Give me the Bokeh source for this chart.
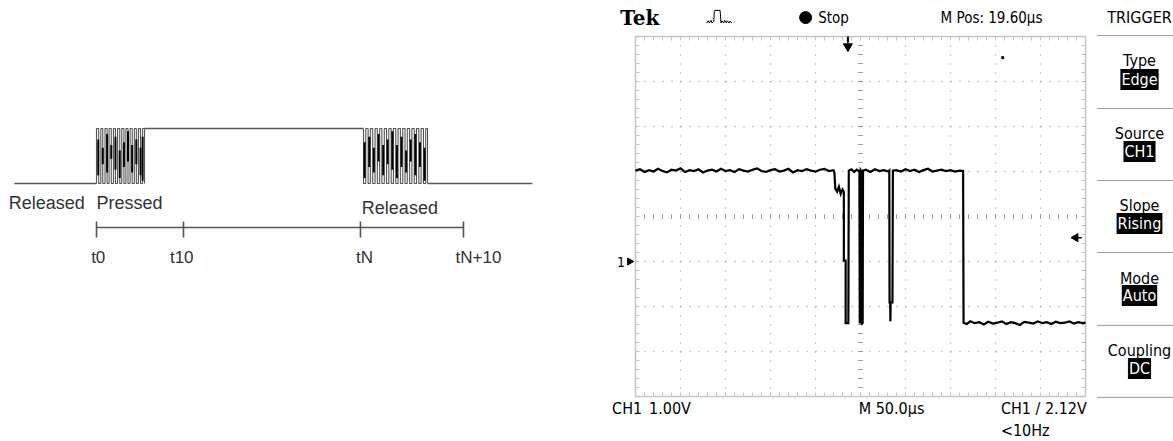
import numpy as np
from bokeh.plotting import figure
from bokeh.models import Range1d
from bokeh.core.properties import value
from bokeh.embed import file_html
from bokeh.resources import INLINE

# ---------------- Left: key-bounce timing diagram (time units, level 0/1) ----------
released_before_t = [-9.43, 0.0]
pressed_plateau_t = [5.52, 30.69]
released_after_t = [38.05, 50.1]

bounce1_edges = [0.00, 0.25, 0.50, 0.72, 0.98, 1.22, 1.45, 1.70, 1.95, 2.18, 2.42, 2.67,
                 2.90, 3.15, 3.38, 3.62, 3.86, 4.10, 4.35, 4.58, 4.82, 5.06, 5.30, 5.52]
bounce1_dark_x = [0.20, 0.72, 1.22, 1.70, 2.18, 2.67, 3.15, 3.62, 4.10, 4.58, 5.06, 5.30]
bounce1_dark_lo = [0.15, 0.35, 0.20, 0.45, 0.25, 0.10, 0.30, 0.40, 0.20, 0.35, 0.15, 0.05]
bounce1_dark_hi = [0.80, 0.65, 0.90, 0.70, 0.85, 0.60, 0.75, 0.95, 0.70, 0.80, 0.65, 0.85]

bounce2_edges = [30.69, 30.95, 31.22, 31.48, 31.75, 32.02, 32.28, 32.55, 32.80, 33.08,
                 33.34, 33.60, 33.87, 34.13, 34.40, 34.66, 34.93, 35.20, 35.46, 35.72,
                 35.99, 36.25, 36.52, 36.78, 37.05, 37.31, 37.58, 37.84, 38.05]
bounce2_dark_x = [30.82, 31.35, 31.88, 32.42, 32.95, 33.47, 34.00, 34.53, 35.06, 35.59,
                  36.12, 36.65, 37.18, 37.71]
bounce2_dark_lo = [0.10, 0.30, 0.20, 0.40, 0.15, 0.35, 0.25, 0.10, 0.30, 0.20, 0.40, 0.15, 0.30, 0.05]
bounce2_dark_hi = [0.75, 0.85, 0.65, 0.90, 0.70, 0.80, 0.95, 0.70, 0.85, 0.60, 0.80, 0.90, 0.75, 0.65]

axis_ticks_t = [0.0, 10.0, 30.34, 42.18]
axis_labels = ["t0", "t10", "tN", "tN+10"]
axis_label_x = [0.2, 9.8, 30.8, 43.9]
state_labels = ["Released", "Pressed", "Released"]
state_label_x = [-10.1, 0.0, 30.5]
state_label_y = [-0.36, -0.36, -0.44]

# ---------------- Right: oscilloscope capture (µs, V) -----------------------------
segA_t = [0, 5, 10, 15, 20, 25, 30, 35, 40, 45, 50, 55, 60, 65, 70, 75, 80, 85, 90, 95, 100,
          105, 110, 115, 120, 125, 130, 135, 140, 145, 150, 155, 160, 165, 170, 175, 180,
          185, 190, 195, 200, 205, 210, 215, 220]
segA_v = [2.02, 2.05, 1.99, 2.03, 2.00, 2.06, 2.01, 1.98, 2.04, 2.02, 2.07, 1.99, 2.03, 2.01,
          2.05, 1.98, 2.02, 2.04, 2.00, 2.06, 2.01, 2.03, 1.99, 2.05, 2.02, 2.00, 2.04, 2.07,
          2.01, 1.99, 2.03, 2.05, 2.00, 2.02, 2.06, 1.98, 2.03, 2.01, 2.05, 2.02, 2.00, 2.04,
          2.06, 2.01, 2.03]
dipA_t = [221, 222, 224, 226, 228, 230, 231.5, 231.5, 233.5, 233.5, 236.5, 237, 240, 243, 246,
          248.8, 249.2, 250.2, 251.2, 251.6, 252.4, 252.8]
dipA_v = [1.98, 1.62, 1.55, 1.66, 1.50, 1.60, 1.55, 0.02, 0.02, -1.37, -1.37, 2.02, 2.05, 1.99,
          2.04, 2.00, -1.38, 2.03, 2.00, -1.38, -1.37, 2.02]
segB_t = [256, 261, 266, 271, 276, 281]
segB_v = [2.04, 1.99, 2.05, 2.01, 2.03, 2.00]
dipB_t = [282, 282.3, 283.0, 283.2, 283.5, 285.5, 286]
dipB_v = [2.02, -0.91, -0.91, -1.33, -0.91, -0.91, 2.02]
segC_t = [290, 295, 300, 305, 310, 315, 320, 325, 330, 335, 340, 345, 350, 355, 360, 364]
segC_v = [2.03, 2.00, 2.05, 2.01, 2.04, 1.99, 2.03, 2.06, 2.00, 2.02, 2.04, 2.01, 2.03, 2.00,
          2.02, 2.01]
segD_t = [364.5, 368, 372, 377, 382, 387, 392, 397, 402, 407, 412, 417, 422, 427, 432, 437,
          442, 447, 452, 457, 462, 467, 472, 477, 482, 487, 492, 497, 500]
segD_v = [-1.36, -1.39, -1.33, -1.37, -1.35, -1.40, -1.34, -1.38, -1.36, -1.33, -1.39, -1.35,
          -1.37, -1.41, -1.34, -1.36, -1.38, -1.33, -1.37, -1.35, -1.39, -1.34, -1.37, -1.36,
          -1.33, -1.38, -1.35, -1.37, -1.36]

icon_t = [79, 81, 82, 84, 85, 87, 87.5, 88, 94, 95, 96, 98, 99, 101, 102, 104, 105, 107]
icon_v = [5.30, 5.35, 5.30, 5.36, 5.30, 5.34, 5.55, 5.58, 5.58, 5.30, 5.35, 5.30, 5.36, 5.30,
          5.35, 5.30, 5.34, 5.30]

header_texts = ["Tek", "Stop", "M Pos: 19.60µs"]
footer_texts = ["CH1", "1.00V", "M 50.0µs", "CH1 / 2.12V", "<10Hz"]
menu_titles = ["Type", "Source", "Slope", "Mode", "Coupling"]
menu_values = ["Edge", "CH1", "Rising", "Auto", "DC"]

# ---------------- layout constants (pixels of the page) ---------------------------
W, H = 1173, 441
# left diagram: t0 at page x 96, 8.7 px per unit; level 0 at page y 183, 55 px per level
lx0, lux, ly0, luy = 96, 8.7, 183, 55
xs_l = (0 - lx0) / lux
ys_l = (ly0 - H) / luy
# scope: 0 µs at page x 635, 0.9 px/µs ; 0 V at page y 261, 45 px/V
sx0, sux, sy0, suy = 635, 0.9, 261, 45
xs_s = (0 - sx0) / sux
ys_s = (sy0 - H) / suy

p = figure(width=W, height=H, output_backend="svg", toolbar_location=None,
           x_range=Range1d(xs_l, xs_l + W / lux), y_range=Range1d(ys_l, ys_l + H / luy),
           x_axis_location=None, y_axis_location=None, min_border=0)
p.grid.visible = False
p.outline_line_color = None
p.background_fill_color = "white"
p.border_fill_color = "white"
p.extra_x_ranges = {"st": Range1d(xs_s, xs_s + W / sux)}
p.extra_y_ranges = {"sv": Range1d(ys_s, ys_s + H / suy)}
S = dict(x_range_name="st", y_range_name="sv")

DIAG = "#555555"
SANS = value("Liberation Sans")
NARROW = value("'Liberation Sans Narrow', 'DejaVu Sans Condensed', 'Liberation Sans', sans-serif")


def steps(edges, start_level):
    xs, ys = [], []
    lev = start_level
    for e in edges:
        xs += [e, e]
        ys += [lev, 1 - lev]
        lev = 1 - lev
    return xs, ys


# ---- left diagram ----
p.line(released_before_t, [0, 0], line_color=DIAG, line_width=1.6)
p.line(pressed_plateau_t, [1, 1], line_color=DIAG, line_width=1.6)
p.line(released_after_t, [0, 0], line_color=DIAG, line_width=1.6)
bx, by = steps(bounce1_edges, 0)
p.line(bx, by, line_color="#555555", line_width=1.1)
bx, by = steps(bounce2_edges, 1)
p.line(bx, by, line_color="#555555", line_width=1.1)
p.segment(bounce1_dark_x, bounce1_dark_lo, bounce1_dark_x, bounce1_dark_hi, line_color="black", line_width=2)
p.segment(bounce2_dark_x, bounce2_dark_lo, bounce2_dark_x, bounce2_dark_hi, line_color="black", line_width=2)

ay = (ly0 - 227) / luy
p.line([axis_ticks_t[0], axis_ticks_t[-1]], [ay, ay], line_color=DIAG, line_width=1.6)
p.segment(axis_ticks_t, [ay + 6 / luy] * 4, axis_ticks_t, [ay - 10 / luy] * 4, line_color=DIAG, line_width=1.6)
p.text(axis_label_x, [(ly0 - 257) / luy] * 4, text=axis_labels, text_font=SANS, text_font_size="17px",
       text_color="#333333", text_align="center", text_baseline="middle")
p.text(state_label_x, state_label_y, text=state_labels, text_font=SANS, text_font_size="18px",
       text_color="#333333", text_align="left", text_baseline="middle")

# ---- scope graticule ----
GRID = "#a0a0a0"
EDGE = "#c4c4c4"
div_t = np.arange(50, 500, 50)
div_v = np.arange(-2, 5, 1)
dot_t = [t for t in div_t if t != 250]
dot_v = [v for v in div_v if v != 1]
p.multi_line([[t, t] for t in dot_t], [[5, -3] for _ in dot_t], line_color=GRID, line_width=1.4,
             line_dash="1 8", **S)
p.multi_line([[0, 500] for _ in dot_v], [[v, v] for v in dot_v], line_color=GRID, line_width=1.4,
             line_dash="1 8", **S)
minor_t = np.arange(0, 501, 10)
minor_v = np.arange(-3, 5.01, 0.2)
# centre-line tick marks
p.segment(minor_t, 1 - 2.5 / suy, minor_t, 1 + 2.5 / suy, line_color=GRID, line_width=1, **S)
p.segment(250 - 2.5 / sux, minor_v, 250 + 2.5 / sux, minor_v, line_color=GRID, line_width=1, **S)
# border and its ticks
p.multi_line([[0, 500, 500, 0, 0]], [[-3, -3, 5, 5, -3]], line_color=EDGE, line_width=1.5, **S)
p.segment(minor_t, 5, minor_t, 5 - 4 / suy, line_color=EDGE, line_width=1, **S)
p.segment(minor_t, -3, minor_t, -3 + 4 / suy, line_color=EDGE, line_width=1, **S)
p.segment(0, minor_v, 4 / sux, minor_v, line_color=EDGE, line_width=1, **S)
p.segment(500, minor_v, 500 - 4 / sux, minor_v, line_color=EDGE, line_width=1, **S)

# ---- trace ----
trace_t = segA_t + dipA_t + segB_t + dipB_t + segC_t + segD_t
trace_v = segA_v + dipA_v + segB_v + dipB_v + segC_v + segD_v
p.line(trace_t, trace_v, line_color="black", line_width=2.2, line_join="miter", **S)

# ---- markers ----
p.segment([236], [5.0], [236], [4.86], line_color="black", line_width=2, **S)
p.scatter([236], [4.78], marker="inverted_triangle", size=9, color="black", **S)
p.scatter([-6.5], [0], marker="triangle", angle=-np.pi / 2, size=7, color="black", **S)
p.text([-16], [0], text=["1"], text_font=NARROW, text_font_size="14px", text_align="center",
       text_baseline="middle", **S)
p.scatter([489], [0.53], marker="triangle", angle=np.pi / 2, size=8, color="black", **S)
p.segment([491], [0.53], [496], [0.53], line_color="black", line_width=1.5, **S)
p.scatter([408], [4.53], marker="square", size=2, color="black", **S)
p.line(icon_t, icon_v, line_color="black", line_width=1, **S)
p.scatter([189], [5.42], marker="circle", size=12, color="black", **S)

# ---- scope texts ----
p.text([-17], [5.42], text=[header_texts[0]], text_font=value("DejaVu Serif"), text_font_style="bold",
       text_font_size="20px", text_align="left", text_baseline="middle", **S)
p.text([203, 339], [5.42, 5.42], text=header_texts[1:], text_font=NARROW, text_font_size="15px",
       text_align="left", text_baseline="middle", **S)
p.text([-26, 15, 248, 406, 406], [-3.27, -3.27, -3.27, -3.27, -3.75], text=footer_texts, text_font=NARROW,
       text_font_size="16px", text_align="left", text_baseline="middle", **S)
p.text([560], [5.42], text=["TRIGGER"], text_font=NARROW, text_font_size="16px",
       text_align="center", text_baseline="middle", **S)
sep_v = [5.02, 3.4, 1.8, 0.2, -1.42, -3.02]
p.segment(513, sep_v, 600, sep_v, line_color="#9a9a9a", line_width=1, **S)
title_y = [(sy0 - y) / suy for y in [60, 133, 205, 278, 350]]
value_y = [(sy0 - y) / suy for y in [79, 151, 223, 295, 368]]
p.text([560] * 5, title_y, text=menu_titles, text_font=NARROW, text_font_size="16px",
       text_align="center", text_baseline="middle", **S)
p.text([560] * 5, value_y, text=menu_values, text_font=NARROW, text_font_size="16px",
       text_color="white", background_fill_color="black", padding=1,
       text_align="center", text_baseline="middle", **S)

open("out.html", "w").write(file_html(p, INLINE))
